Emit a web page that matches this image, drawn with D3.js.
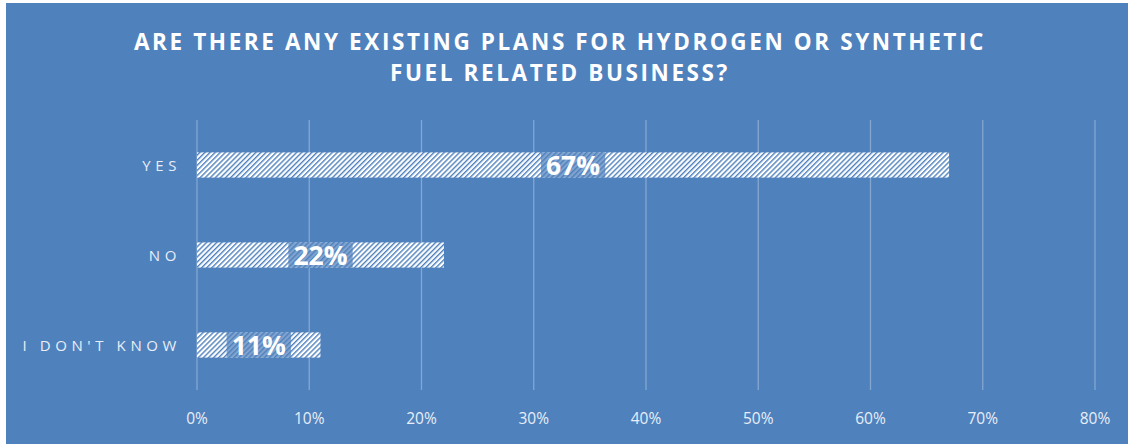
<!DOCTYPE html>
<html><head><meta charset="utf-8">
<script src="https://cdn.jsdelivr.net/npm/d3@7"></script>
<style>body{margin:0;background:#fff}svg{display:block}</style>
</head><body>
<script>
const categories = ["YES", "NO", "I DON'T KNOW"];
const values = [0.67, 0.22, 0.11];
const valueLabels = ["67%", "22%", "11%"];
const ticks = [0, 0.1, 0.2, 0.3, 0.4, 0.5, 0.6, 0.7, 0.8];
const titleLines = ["ARE THERE ANY EXISTING PLANS FOR HYDROGEN OR SYNTHETIC", "FUEL RELATED BUSINESS?"];

const W = 1128, H = 444, bg = "#4f81bd";
const svg = d3.select("body").append("svg").attr("width", W).attr("height", H);
const defs = svg.append("defs");
const pat = defs.append("pattern").attr("id", "hatch").attr("patternUnits", "userSpaceOnUse")
  .attr("width", 3.6).attr("height", 3.6).attr("patternTransform", "rotate(45)");
pat.append("rect").attr("width", 3.6).attr("height", 3.6).attr("fill", "#ffffff");
pat.append("rect").attr("width", 1.4).attr("height", 3.6).attr("fill", bg);

svg.append("rect").attr("x", 6).attr("y", 3).attr("width", W - 6).attr("height", H - 3).attr("fill", bg);

const x = d3.scaleLinear().domain([0, 0.8]).range([197, 1095]);
const y = d3.scaleBand().domain(categories).range([120, 390]).paddingInner(0.72).paddingOuter(0.36);

svg.append("g").selectAll("line").data(ticks).join("line")
  .attr("x1", d => x(d)).attr("x2", d => x(d)).attr("y1", 120).attr("y2", 390)
  .attr("stroke", "#ffffff").attr("stroke-opacity", 0.3).attr("stroke-width", 1.3);

svg.append("g").selectAll("text").data(ticks).join("text")
  .attr("x", d => x(d)).attr("y", 424).attr("text-anchor", "middle")
  .attr("font-family", "Open Sans, sans-serif").attr("font-size", 15.5).attr("fill", "#e8eef7")
  .text(d => d3.format(".0%")(d));

svg.append("g").selectAll("text").data(titleLines).join("text")
  .attr("x", 560).attr("y", (d, i) => 50 + i * 31).attr("text-anchor", "middle")
  .attr("font-family", "Open Sans, sans-serif").attr("font-weight", 700).attr("font-size", 22.5)
  .attr("letter-spacing", 2.6).attr("fill", "#ffffff").text(d => d);

svg.append("g").selectAll("text").data(categories).join("text")
  .attr("x", 181).attr("y", d => y(d) + y.bandwidth() / 2 + 5.5).attr("text-anchor", "end")
  .attr("font-family", "Open Sans, sans-serif").attr("font-size", 15).attr("letter-spacing", 4.6)
  .attr("fill", "#e8eef7").text(d => d);

svg.append("g").selectAll("rect").data(values).join("rect")
  .attr("x", x(0)).attr("y", (d, i) => y(categories[i])).attr("width", d => x(d) - x(0))
  .attr("height", y.bandwidth()).attr("fill", "url(#hatch)");

const lab = svg.append("g").selectAll("g").data(values).join("g");
lab.each(function(d, i) {
  const g = d3.select(this);
  const cx = (x(0) + x(d)) / 2, cy = y(categories[i]) + y.bandwidth() / 2;
  const t = g.append("text").attr("x", cx).attr("y", cy + 9.5).attr("text-anchor", "middle")
    .attr("font-family", "Open Sans, sans-serif").attr("font-weight", 700).attr("font-size", 26.5)
    .attr("fill", "#ffffff").text(valueLabels[i]);
  const bb = t.node().getBBox();
  g.insert("rect", "text").attr("x", bb.x - 5).attr("y", y(categories[i])).attr("width", bb.width + 10)
    .attr("height", y.bandwidth()).attr("fill", bg).attr("fill-opacity", 0.72);
});
</script>
</body></html>
